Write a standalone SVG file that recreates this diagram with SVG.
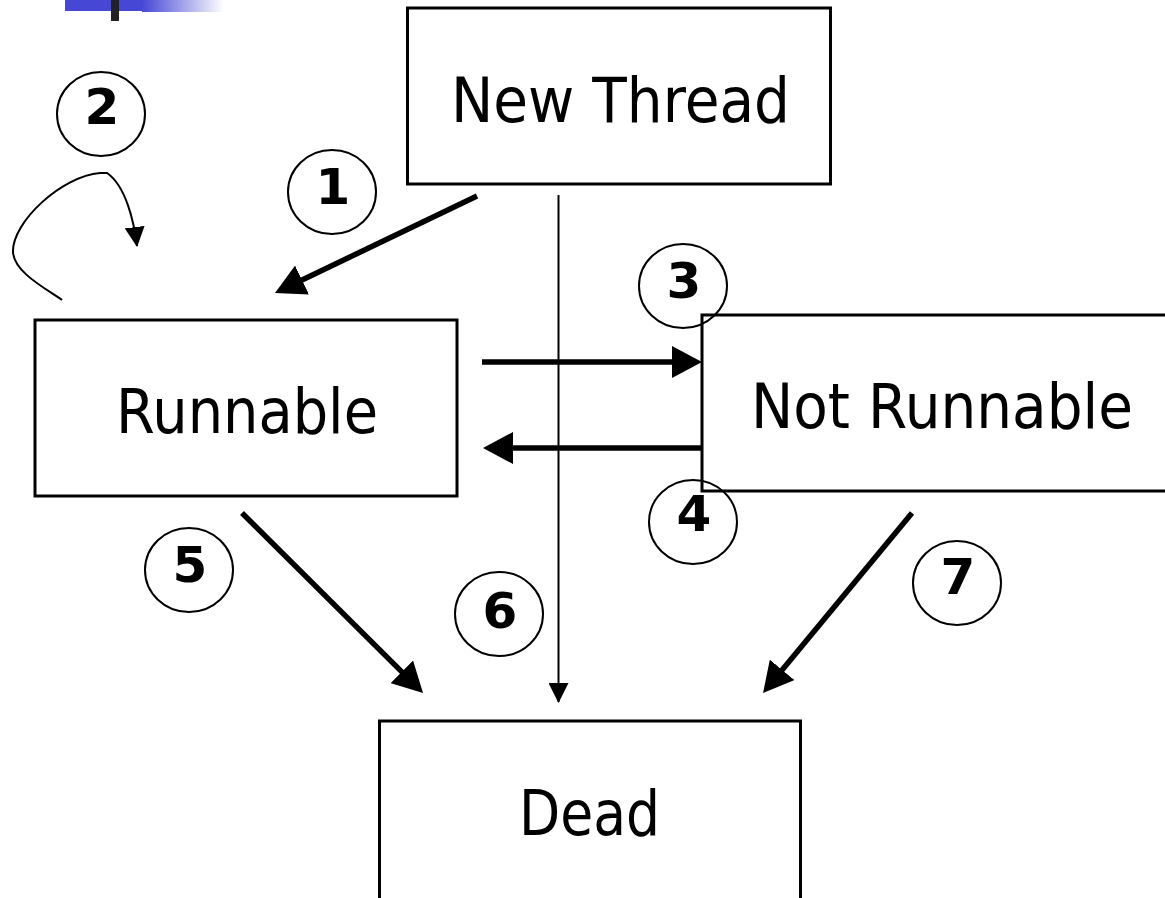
<svg xmlns="http://www.w3.org/2000/svg" width="1165" height="898" viewBox="0 0 1165 898">
<style>
.box{fill:#fff;stroke:#000;stroke-width:3}
.lbl{font-family:"DejaVu Sans","Liberation Sans",sans-serif;font-size:62px;fill:#000}
.num{font-family:"DejaVu Sans","Liberation Sans",sans-serif;font-size:50px;font-weight:bold;fill:#000;text-anchor:middle}
.badge{fill:none;stroke:#000;stroke-width:2}
.thick{fill:none;stroke:#000;stroke-width:5.5}
.thin{fill:none;stroke:#000;stroke-width:2}
</style>
<defs>
<marker id="big" markerUnits="userSpaceOnUse" viewBox="0 0 30 32" refX="15" refY="16" markerWidth="30" markerHeight="32" orient="auto">
<path d="M0,0 L30,16 L0,32 Z" fill="#000"/>
</marker>
<marker id="small" markerUnits="userSpaceOnUse" viewBox="0 0 20 20" refX="19" refY="10" markerWidth="20" markerHeight="20" orient="auto">
<path d="M0,0 L20,10 L0,20 Z" fill="#000"/>
</marker>
<linearGradient id="fade" x1="0" y1="0" x2="1" y2="0">
<stop offset="0" stop-color="#4747d6"/>
<stop offset="1" stop-color="#4747d6" stop-opacity="0"/>
</linearGradient>
</defs>
<rect width="1165" height="898" fill="#fff"/>
<rect x="65" y="0" width="77" height="11" fill="#4747d6"/>
<rect x="142" y="0" width="82" height="12" fill="url(#fade)"/>
<rect x="111" y="0" width="8" height="21" fill="#222"/>

<g id="connectors">
<line class="thick" x1="477" y1="196" x2="288.5" y2="286.5" marker-end="url(#big)"/>
<path class="thin" d="M62,300 C45,288 14,272 13,252 C12,222 62,176 100,173 L107,173 C126,186 134,222 137,246" marker-end="url(#small)"/>
<line class="thick" x1="482" y1="362" x2="687" y2="362" marker-end="url(#big)"/>
<line class="thick" x1="702" y1="448" x2="498" y2="448" marker-end="url(#big)"/>
<line class="thick" x1="242" y1="513" x2="412.4" y2="682.4" marker-end="url(#big)"/>
<line class="thin" x1="558.5" y1="195" x2="558.5" y2="702" marker-end="url(#small)"/>
<line class="thick" x1="912" y1="513" x2="772.6" y2="681.4" marker-end="url(#big)"/>
</g>

<g id="new-thread">
<rect class="box" x="407.5" y="8" width="423" height="176"/>
<text class="lbl" x="451" y="122" textLength="339" lengthAdjust="spacingAndGlyphs">New Thread</text>
</g>
<g id="runnable">
<rect class="box" x="35" y="320" width="422" height="176"/>
<text class="lbl" x="116" y="433" textLength="262" lengthAdjust="spacingAndGlyphs">Runnable</text>
</g>
<g id="not-runnable">
<rect class="box" x="702" y="315" width="465" height="176"/>
<text class="lbl" x="751" y="428" textLength="382" lengthAdjust="spacingAndGlyphs">Not Runnable</text>
</g>
<g id="dead">
<rect class="box" x="379.5" y="721" width="421" height="179"/>
<text class="lbl" x="519" y="835" textLength="141" lengthAdjust="spacingAndGlyphs">Dead</text>
</g>

<g id="badge-1"><ellipse class="badge" cx="332" cy="192" rx="44" ry="42"/><text class="num" x="333" y="204">1</text></g>
<g id="badge-2"><ellipse class="badge" cx="101" cy="114" rx="44" ry="42"/><text class="num" x="102" y="124">2</text></g>
<g id="badge-3"><ellipse class="badge" cx="683" cy="286" rx="44" ry="42"/><text class="num" x="684" y="298">3</text></g>
<g id="badge-4"><ellipse class="badge" cx="693" cy="522" rx="44" ry="42"/><text class="num" x="694" y="531">4</text></g>
<g id="badge-5"><ellipse class="badge" cx="189" cy="570" rx="44" ry="42"/><text class="num" x="190" y="582">5</text></g>
<g id="badge-6"><ellipse class="badge" cx="499" cy="614" rx="44" ry="42"/><text class="num" x="500" y="628">6</text></g>
<g id="badge-7"><ellipse class="badge" cx="957" cy="583" rx="44" ry="42"/><text class="num" x="958" y="594">7</text></g>
</svg>
